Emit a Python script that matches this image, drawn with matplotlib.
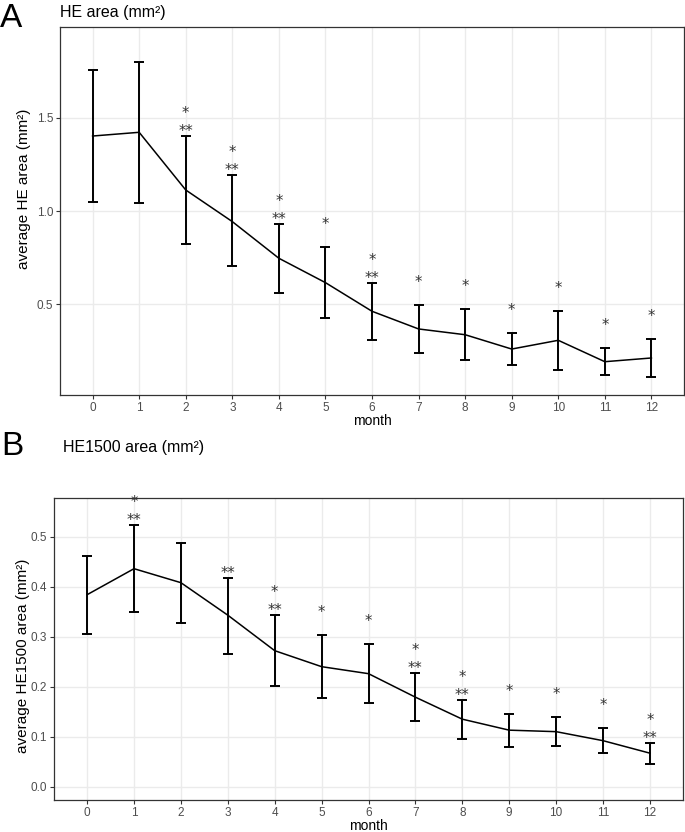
import numpy as np
import matplotlib
matplotlib.use('Agg')
import matplotlib.pyplot as plt

plt.rcParams['font.family'] = ['Liberation Sans', 'DejaVu Sans']

months = list(range(13))

# panel A: HE area
he_mean = [1.403, 1.423, 1.113, 0.943, 0.746, 0.615, 0.461, 0.366, 0.335, 0.258, 0.305, 0.190, 0.210]
he_upper = [1.758, 1.803, 1.403, 1.194, 0.932, 0.808, 0.613, 0.493, 0.475, 0.344, 0.462, 0.263, 0.312]
he_lower = [1.048, 1.045, 0.823, 0.706, 0.561, 0.425, 0.308, 0.238, 0.197, 0.170, 0.147, 0.118, 0.109]
he_star1 = ['', '', '*', '*', '*', '*', '*', '*', '*', '*', '*', '*', '*']
he_star2 = ['', '', '**', '**', '**', '', '**', '', '', '', '', '', '']

# panel B: HE1500 area
he15_mean = [0.384, 0.436, 0.408, 0.343, 0.272, 0.240, 0.226, 0.179, 0.135, 0.113, 0.110, 0.092, 0.067]
he15_upper = [0.462, 0.523, 0.488, 0.417, 0.343, 0.303, 0.286, 0.227, 0.173, 0.145, 0.140, 0.117, 0.087]
he15_lower = [0.305, 0.349, 0.327, 0.266, 0.201, 0.178, 0.168, 0.131, 0.096, 0.079, 0.082, 0.068, 0.045]
he15_star1 = ['', '*', '', '', '*', '*', '*', '*', '*', '*', '*', '*', '*']
he15_star2 = ['', '**', '', '**', '**', '', '', '**', '**', '', '', '', '**']

GRID = '#EBEBEB'
BORDER = '#333333'
TICKTXT = '#4D4D4D'


def panel(ax, mean, upper, lower, star1, star2, ylim, yticks, ylabel, ylab_pos):
    x = np.array(months)
    mean = np.array(mean)
    yerr = [mean - np.array(lower), np.array(upper) - mean]
    ax.plot(x, mean, color='black', lw=1.1, zorder=3)
    ax.errorbar(x, mean, yerr=yerr, fmt='none', ecolor='black', elinewidth=1.4,
                capsize=3.3, capthick=1.4, zorder=3)

    for xi, up, s1, s2 in zip(x, upper, star1, star2):
        if s2:
            ax.annotate(s2, (xi, up), xytext=(0, 0), textcoords='offset points',
                        ha='center', va='baseline', fontsize=10.5, color='#333333',
                        family='DejaVu Sans')
        if s1:
            ax.annotate(s1, (xi, up), xytext=(0, 13), textcoords='offset points',
                        ha='center', va='baseline', fontsize=10.5, color='#333333',
                        family='DejaVu Sans')

    ax.set_xlim(-0.7, 12.7)
    ax.set_ylim(*ylim)
    ax.set_xticks(months)
    ax.set_yticks(yticks)
    ax.set_yticklabels(['%.1f' % t for t in yticks])
    ax.grid(True, color=GRID, lw=1.0, zorder=0)
    ax.set_axisbelow(True)
    for sp in ax.spines.values():
        sp.set_color(BORDER)
        sp.set_linewidth(0.9)
    ax.tick_params(length=3, width=0.8, color=BORDER, labelcolor=TICKTXT,
                   labelsize=8.5, pad=2)
    ax.set_xlabel('month', fontsize=10, labelpad=0)
    ax.set_ylabel(ylabel, fontsize=11)
    ax.yaxis.set_label_coords(*ylab_pos)


fig = plt.figure(figsize=(6.85, 8.32), dpi=100)

ax1 = fig.add_axes([60 / 685, 1 - 395 / 832, 624 / 685, 368 / 832])
panel(ax1, he_mean, he_upper, he_lower, he_star1, he_star2,
      (0.011, 1.989), [0.5, 1.0, 1.5], 'average HE area (mm\u00b2)', (-0.046, 0.56))

ax2 = fig.add_axes([54.3 / 685, 1 - 800 / 832, 628.4 / 685, 302.3 / 832])
panel(ax2, he15_mean, he15_upper, he15_lower, he15_star1, he15_star2,
      (-0.0267, 0.578), [0.0, 0.1, 0.2, 0.3, 0.4, 0.5], 'average HE1500 area (mm\u00b2)',
      (-0.039, 0.476))

fig.text(0 / 685, 1 - 27 / 832, 'A', fontsize=24, va='baseline', ha='left')
fig.text(60 / 685, 1 - 17 / 832, 'HE area (mm\u00b2)', fontsize=11.5, va='baseline', ha='left')
fig.text(1 / 685, 1 - 455 / 832, 'B', fontsize=24, va='baseline', ha='left')
fig.text(63 / 685, 1 - 451.5 / 832, 'HE1500 area (mm\u00b2)', fontsize=11.5, va='baseline', ha='left')

fig.savefig('out.png', dpi=100)
